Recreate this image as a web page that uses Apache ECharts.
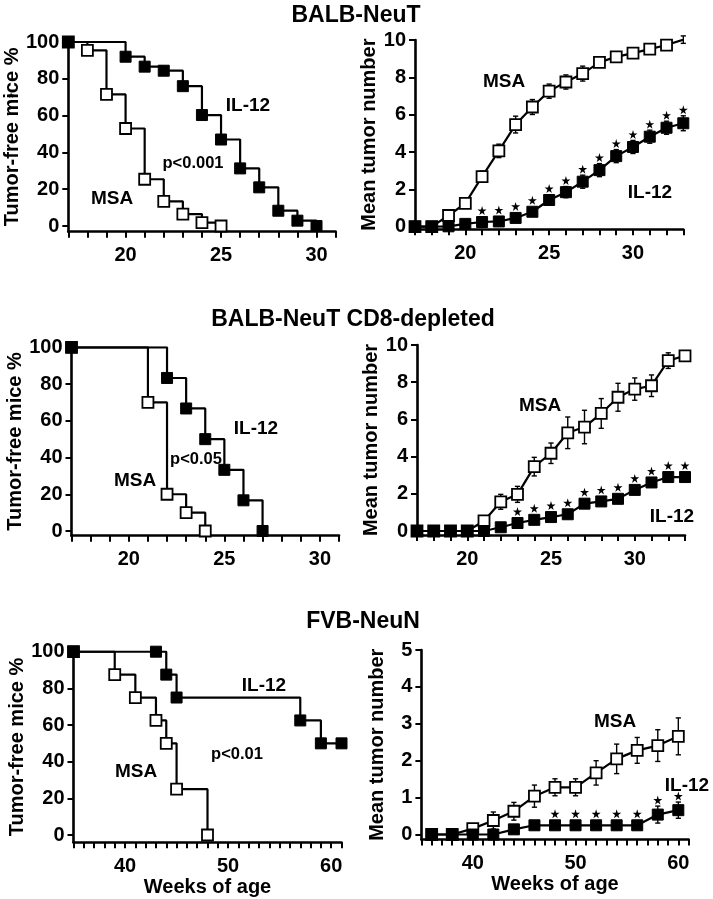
<!DOCTYPE html>
<html><head><meta charset="utf-8">
<script src="https://cdn.jsdelivr.net/npm/echarts@6/dist/echarts.min.js"></script>
<style>html,body{margin:0;padding:0;background:#fff}#c{width:713px;height:899px}</style>
</head><body><div id="c"></div>
<script>
// ================= DATA =================
// Panel 1: BALB-NeuT, tumor-free survival (%)
const p1WeeksIL12 = [17,20,21,22,23,24,25,26,27,28,29,30];
const p1IL12      = [100,92,86.6,84.4,76,60.3,47,31.3,21,8.3,2.9,0];
const p1WeeksMSA  = [17,18,19,20,21,22,23,24,25];
const p1MSA       = [100,95.5,71.5,53,25.4,13.4,6.5,1.8,0];

// Panel 3: BALB-NeuT CD8-depleted, tumor-free survival (%)
const p3WeeksIL12 = [17,22,23,24,25,26,27];
const p3IL12      = [100,83.3,66.7,50,33.3,16.7,0];
const p3WeeksMSA  = [17,21,22,23,24];
const p3MSA       = [100,70,20,10,0];

// Panel 5: FVB-NeuN, tumor-free survival (%)
const p5WeeksIL12 = [35,43,44,45,57,59,61];
const p5IL12      = [100,100,87.5,75,62.5,50,50];
const p5WeeksMSA  = [35,39,41,43,44,45,48];
const p5MSA       = [100,87.5,75,62.5,50,25,0];

// BALB weeks for mean tumor number panels
const balbWeeks = [17,18,19,20,21,22,23,24,25,26,27,28,29,30,31,32,33];

// Panel 2: BALB-NeuT mean tumor number
const p2MSA     = [0,0,0.6,1.25,2.68,4.06,5.47,6.41,7.26,7.75,8.2,8.8,9.1,9.3,9.51,9.73,10.02];
const p2MSAErr  = [0,0,0.1,0.15,0.3,0.36,0.45,0.4,0.38,0.38,0.4,0.2,0.15,0.15,0.15,0.2,0.2];
const p2IL12    = [0,0,0.02,0.15,0.25,0.28,0.47,0.8,1.43,1.85,2.41,3.03,3.78,4.27,4.82,5.3,5.54];
const p2IL12Err = [0,0,0,0.05,0.1,0.1,0.12,0.15,0.25,0.3,0.35,0.35,0.35,0.35,0.35,0.35,0.4];
const p2StarWeeks = [21,22,23,24,25,26,27,28,29,30,31,32,33];

// Panel 4: BALB-NeuT CD8-depleted mean tumor number
const p4MSA     = [0,0,0,0,0.54,1.57,1.97,3.46,4.18,5.28,5.59,6.32,7.19,7.63,7.81,9.16,9.42];
const p4MSAErr  = [0,0,0,0,0.1,0.4,0.43,0.5,0.55,0.85,0.9,0.8,0.75,0.6,0.58,0.42,0.2];
const p4IL12    = [0,0,0,0,0,0.2,0.43,0.6,0.75,0.9,1.47,1.59,1.73,2.21,2.61,2.9,2.9];
const p4IL12Err = [0,0,0,0,0,0.08,0.1,0.1,0.1,0.1,0.15,0.15,0.15,0.2,0.2,0.2,0.2];
const p4StarWeeks = [23,24,25,26,27,28,29,30,31,32,33];

// Panel 6: FVB-NeuN mean tumor number
const fvbWeeks  = [36,38,40,42,44,46,48,50,52,54,56,58,60];
const p6MSA     = [0,0,0.16,0.38,0.63,1.04,1.28,1.28,1.67,2.05,2.28,2.41,2.66];
const p6MSAErr  = [0,0,0.05,0.23,0.24,0.3,0.23,0.23,0.33,0.4,0.35,0.43,0.5];
const p6IL12    = [0,0,0,0,0.14,0.25,0.25,0.25,0.25,0.25,0.25,0.54,0.66];
const p6IL12Err = [0,0,0,0,0.05,0.08,0.08,0.08,0.08,0.08,0.08,0.23,0.22];
const p6StarWeeks = [48,50,52,54,56,58,60];

// Tick labels
const survTicks = [0,20,40,60,80,100];
const balbMeanTicks = [0,2,4,6,8,10];
const fvbMeanTicks = [0,1,2,3,4,5];
const balbWeekLabels = [20,25,30];
const fvbWeekLabels = [40,50,60];
const range = (a,b) => { const r=[]; for(let i=a;i<=b;i++) r.push(i); return r; };

// ================= LAYOUT / STYLE =================
const FONT = '"Liberation Sans", Arial, Helvetica, sans-serif';
const grids = [
  {left:68.3, top:42,    width:267.3, height:189.7},
  {left:415,  top:40,    width:268.3, height:189.3},
  {left:71.5, top:347.3, width:267.5, height:188.4},
  {left:417,  top:345,   width:268,   height:190},
  {left:73.5, top:651.7, width:268,   height:190.6},
  {left:421.4,top:650,   width:267.2, height:189.5}
];
const xRanges = [[17,31],[17,33],[17,31],[17,33],[35,61],[35,61]];
const yRanges = [[-3.1,100],[-0.14,10],[-2.56,100],[-0.215,10],[-3.98,100],[-0.135,5]];
const yTicks = [survTicks, balbMeanTicks, survTicks, balbMeanTicks, survTicks, fvbMeanTicks];
const xLabels = [balbWeekLabels, balbWeekLabels, balbWeekLabels, balbWeekLabels, fvbWeekLabels, fvbWeekLabels];
const yNames = ['Tumor-free mice %','Mean tumor number','Tumor-free mice %','Mean tumor number','Tumor-free mice %','Mean tumor number'];

const xAxes = grids.map((g,i) => ({
  gridIndex:i, type:'value', min:xRanges[i][0], max:xRanges[i][1],
  axisLine:{show:true, onZero:false, lineStyle:{color:'#000', width:2.6}},
  axisTick:{show:true, customValues: range(xRanges[i][0], xRanges[i][1]), length:6, lineStyle:{color:'#000', width:2}},
  axisLabel:{customValues:xLabels[i], margin:14, color:'#000', fontFamily:FONT, fontWeight:'bold', fontSize:20},
  splitLine:{show:false},
  name: i>=4 ? 'Weeks of age' : '', nameLocation:'middle', nameGap:33,
  nameTextStyle:{color:'#000', fontFamily:FONT, fontWeight:'bold', fontSize:20}
}));
const yAxes = grids.map((g,i) => ({
  gridIndex:i, type:'value', min:yRanges[i][0], max:yRanges[i][1],
  axisLine:{show:true, onZero:false, lineStyle:{color:'#000', width:2.6}},
  axisTick:{show:true, customValues:yTicks[i], length:6, lineStyle:{color:'#000', width:2}},
  axisLabel:{customValues:yTicks[i], margin:9, color:'#000', fontFamily:FONT, fontWeight:'bold', fontSize:20},
  splitLine:{show:false},
  name:yNames[i], nameLocation:'middle', nameGap: (i%2===0) ? 40 : 34,
  nameTextStyle:{color:'#000', fontFamily:FONT, fontWeight:'bold', fontSize:20}
}));

const SYM = 11;
const filledItem = {color:'#000', borderColor:'#000', borderWidth:1};
const openItem = {color:'#fff', borderColor:'#000', borderWidth:1.8};
function lineSeries(idx, xs, ys, filled, step){
  return {
    type:'line', xAxisIndex:idx, yAxisIndex:idx, step: step ? 'end' : false,
    data: xs.map((x,k)=>[x, ys[k]]), symbol:'rect', symbolSize:SYM, showSymbol:true,
    lineStyle:{color:'#000', width:2.2}, itemStyle: filled ? filledItem : openItem,
    z: filled ? 4 : 3, silent:true, animation:false
  };
}
function errSeries(idx, xs, ys, es){
  return {
    type:'custom', xAxisIndex:idx, yAxisIndex:idx, z:2, silent:true, animation:false,
    data: xs.map((x,k)=>[x, ys[k], es[k]]), encode:{x:0, y:1},
    renderItem:function(params, api){
      const x = api.value(0), v = api.value(1), e = api.value(2);
      if (!e) return null;
      const hi = api.coord([x, v+e]), lo = api.coord([x, v-e]);
      const w = 2.6, st = {stroke:'#000', lineWidth:1.4};
      return {type:'group', children:[
        {type:'line', shape:{x1:hi[0],y1:hi[1],x2:lo[0],y2:lo[1]}, style:st},
        {type:'line', shape:{x1:hi[0]-w,y1:hi[1],x2:hi[0]+w,y2:hi[1]}, style:st},
        {type:'line', shape:{x1:lo[0]-w,y1:lo[1],x2:lo[0]+w,y2:lo[1]}, style:st}
      ]};
    }
  };
}
const STAR = 'M50,0 L61,35 L98,35 L68,57 L79,91 L50,70 L21,91 L32,57 L2,35 L39,35 Z';
function starSeries(idx, weeks, xs, ys, es){
  const data = weeks.map(w => { const k = xs.indexOf(w); return [w, ys[k], es[k]]; });
  return {
    type:'custom', xAxisIndex:idx, yAxisIndex:idx, z:5, silent:true, animation:false,
    data, encode:{x:0, y:1},
    renderItem:function(params, api){
      const x = api.value(0), v = api.value(1), e = api.value(2);
      const p = api.coord([x, v]), t = api.coord([x, v+e]);
      const cy = Math.min(t[1], p[1]-5.5) - 6;
      return {type:'path', shape:{pathData:STAR, x:p[0]-4.5, y:cy-4.5, width:9, height:9, layout:'cover'}, style:{fill:'#000'}};
    }
  };
}

const series = [
  lineSeries(0, p1WeeksMSA, p1MSA, false, true),
  lineSeries(0, p1WeeksIL12, p1IL12, true, true),
  errSeries(1, balbWeeks, p2MSA, p2MSAErr),
  errSeries(1, balbWeeks, p2IL12, p2IL12Err),
  lineSeries(1, balbWeeks, p2MSA, false, false),
  lineSeries(1, balbWeeks, p2IL12, true, false),
  starSeries(1, p2StarWeeks, balbWeeks, p2IL12, p2IL12Err),
  lineSeries(2, p3WeeksMSA, p3MSA, false, true),
  lineSeries(2, p3WeeksIL12, p3IL12, true, true),
  errSeries(3, balbWeeks, p4MSA, p4MSAErr),
  errSeries(3, balbWeeks, p4IL12, p4IL12Err),
  lineSeries(3, balbWeeks, p4MSA, false, false),
  lineSeries(3, balbWeeks, p4IL12, true, false),
  starSeries(3, p4StarWeeks, balbWeeks, p4IL12, p4IL12Err),
  lineSeries(4, p5WeeksMSA, p5MSA, false, true),
  lineSeries(4, p5WeeksIL12, p5IL12, true, true),
  errSeries(5, fvbWeeks, p6MSA, p6MSAErr),
  errSeries(5, fvbWeeks, p6IL12, p6IL12Err),
  lineSeries(5, fvbWeeks, p6MSA, false, false),
  lineSeries(5, fvbWeeks, p6IL12, true, false),
  starSeries(5, p6StarWeeks, fvbWeeks, p6IL12, p6IL12Err)
];

function txt(text, x, y, size, family){
  return {type:'text', x, y, silent:true, z:10,
    style:{text, fill:'#000', font:'bold '+size+'px '+(family||FONT), align:'center', verticalAlign:'middle', textAlign:'center', textVerticalAlign:'middle'}};
}
const graphics = [
  txt('BALB-NeuT', 356, 16, 23),
  txt('BALB-NeuT CD8-depleted', 353, 320, 23),
  txt('FVB-NeuN', 363, 622, 23),
  txt('IL-12', 248, 106, 19), txt('p<0.001', 193, 163, 16.5), txt('MSA', 112, 199, 19),
  txt('MSA', 504, 82, 19), txt('IL-12', 650, 193, 19),
  txt('IL-12', 256, 429, 19), txt('p<0.05', 196, 459, 16.5), txt('MSA', 135, 481, 19),
  txt('MSA', 540, 406, 19), txt('IL-12', 672, 517, 19),
  txt('IL-12', 264, 686, 19), txt('p<0.01', 237, 754, 16.5), txt('MSA', 136, 772, 19),
  txt('MSA', 615, 722, 19), txt('IL-12', 687, 786, 19),
  txt('\u2605', 11, 96, 8, '"DejaVu Sans", sans-serif')
];

const chart = echarts.init(document.getElementById('c'), null, {renderer:'canvas'});
chart.setOption({
  animation:false, backgroundColor:'#fff',
  grid: grids.map(g => Object.assign({containLabel:false}, g)),
  xAxis: xAxes, yAxis: yAxes, series, graphic: graphics
});
</script></body></html>
